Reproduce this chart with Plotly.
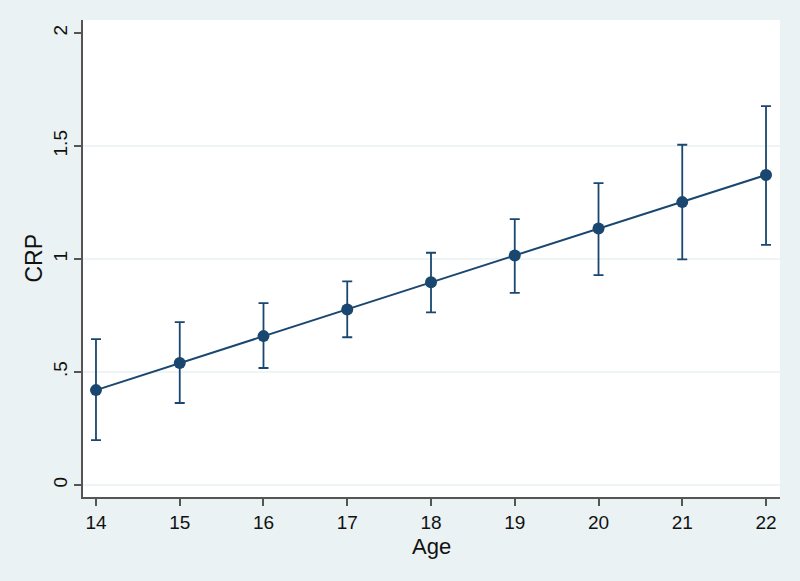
import plotly.graph_objects as go

age = [14, 15, 16, 17, 18, 19, 20, 21, 22]
crp = [0.420, 0.540, 0.659, 0.777, 0.897, 1.016, 1.135, 1.252, 1.372]
upper = [0.646, 0.721, 0.805, 0.901, 1.028, 1.177, 1.336, 1.506, 1.677]
lower = [0.199, 0.363, 0.518, 0.654, 0.764, 0.850, 0.929, 0.999, 1.063]

ytick_vals = [0, 0.5, 1, 1.5, 2]
ytick_text = ["0", ".5", "1", "1.5", "2"]
grid_vals = [0, 0.5, 1, 1.5]
x_title = "Age"
y_title = "CRP"

navy = "#1a476f"
bg = "#eaf2f3"

fig = go.Figure()
fig.add_trace(go.Scatter(
    x=age, y=crp, mode="lines+markers",
    line=dict(color=navy, width=2),
    marker=dict(color=navy, size=12),
    error_y=dict(type="data", symmetric=False,
                 array=[u - c for u, c in zip(upper, crp)],
                 arrayminus=[c - l for c, l in zip(crp, lower)],
                 color=navy, thickness=1.8, width=5),
    showlegend=False,
))

for g in grid_vals:
    fig.add_shape(type="line", xref="paper", x0=0, x1=1, yref="y", y0=g, y1=g,
                  line=dict(color=bg, width=1.5), layer="below")

font = "Liberation Sans, Arial, Helvetica, sans-serif"
fig.add_annotation(text=x_title, xref="paper", yref="paper", x=0.5, y=0,
                   xanchor="center", yanchor="top", yshift=-36, showarrow=False,
                   borderpad=0,
                   font=dict(size=22, family=font, color="#111"))
fig.add_annotation(text=y_title, xref="paper", yref="paper", x=0, y=0.5,
                   xanchor="center", yanchor="middle", xshift=-50, textangle=-90,
                   showarrow=False, font=dict(size=23, family=font, color="#111"))

fig.update_layout(
    width=800, height=581,
    paper_bgcolor=bg, plot_bgcolor="white",
    margin=dict(l=83, r=20, t=20, b=84),
    font=dict(family=font, color="#111"),
    xaxis=dict(range=[13.845, 22.167], tickvals=age, showgrid=False, zeroline=False,
               showline=True, linecolor="#555", linewidth=1.5,
               ticks="outside", ticklen=7, tickcolor="#555", tickwidth=1.5,
               tickfont=dict(size=19, family=font, color="#111")),
    yaxis=dict(range=[-0.053, 2.058], tickvals=ytick_vals, ticktext=ytick_text,
               tickangle=-90, showgrid=False, zeroline=False,
               showline=True, linecolor="#555", linewidth=1.5,
               ticks="outside", ticklen=7, tickcolor="#555", tickwidth=1.5,
               tickfont=dict(size=19, family=font, color="#111")),
)

fig.write_html("out.html", config={"displayModeBar": False},
               post_script="document.body.style.margin='0';document.body.style.padding='0';document.body.style.overflow='hidden';")
